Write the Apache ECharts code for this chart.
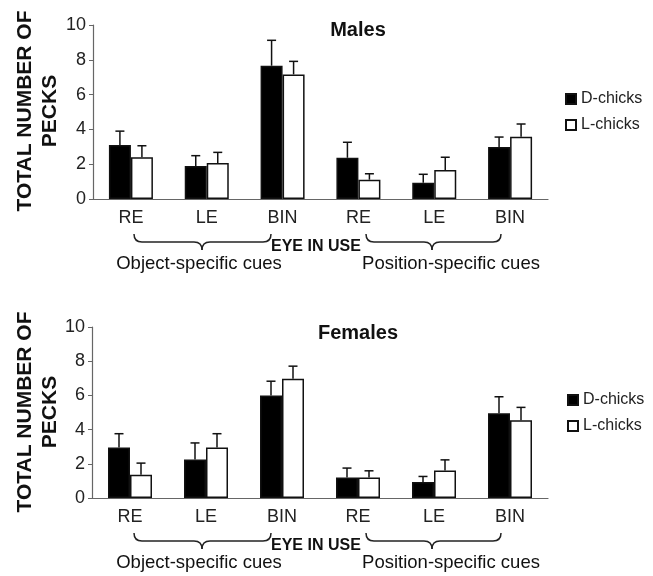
<!DOCTYPE html>
<html><head><meta charset="utf-8">
<script src="https://cdn.jsdelivr.net/npm/echarts@6/dist/echarts.min.js"></script>
<style>html,body{margin:0;padding:0;background:#fff}#c{width:653px;height:576px}</style>
</head><body><div id="c"></div>
<script>
var categories = ['RE','LE','BIN','RE','LE','BIN'];
var yTicks = [0,2,4,6,8,10];
var seriesNames = ['D-chicks','L-chicks'];
var maleD    = [3.10, 1.90, 7.66, 2.37, 0.94, 2.99];
var maleDErr = [0.80, 0.59, 1.46, 0.89, 0.48, 0.57];
var maleL    = [2.40, 2.07, 7.16, 1.11, 1.67, 3.58];
var maleLErr = [0.66, 0.61, 0.75, 0.34, 0.73, 0.73];
var femD     = [2.95, 2.25, 6.00, 1.20, 0.93, 4.95];
var femDErr  = [0.81, 0.97, 0.83, 0.55, 0.33, 0.97];
var femL     = [1.36, 2.95, 6.97, 1.20, 1.61, 4.54];
var femLErr  = [0.68, 0.81, 0.74, 0.39, 0.62, 0.76];

var FONT = "'Liberation Sans', Arial, Helvetica, sans-serif";
var BARW = 22;
var chart = echarts.init(document.getElementById('c'), null, {renderer:'canvas'});

function errData(vals, errs){ return vals.map(function(v,i){ return [i, v, errs[i]]; }); }
function errSeries(idx, vals, errs, side){
  return {
    type:'custom', xAxisIndex:idx, yAxisIndex:idx, silent:true, z:5, clip:false,
    data: errData(vals, errs),
    renderItem:function(params, api){
      var p0 = api.coord([api.value(0), api.value(1)]);
      var p1 = api.coord([api.value(0), api.value(1)+api.value(2)]);
      var x = p0[0] + side*BARW/2;
      return {type:'group', children:[
        {type:'line', shape:{x1:x,y1:p0[1],x2:x,y2:p1[1]}, style:{stroke:'#111',lineWidth:1.5}},
        {type:'line', shape:{x1:x-4.5,y1:p1[1],x2:x+4.5,y2:p1[1]}, style:{stroke:'#111',lineWidth:1.5}}
      ]};
    }
  };
}
function barSeries(idx, name, vals, fill){
  return {type:'bar', name:name, xAxisIndex:idx, yAxisIndex:idx, data:vals, barWidth:BARW, barGap:'0%',
    itemStyle:{color:fill, borderColor:'#111', borderWidth:1.5}, z:3};
}
function xAx(idx){
  return {type:'category', gridIndex:idx, data:categories,
    axisLine:{lineStyle:{color:'#666',width:1.2}},
    axisTick:{length:5, lineStyle:{color:'#666'}},
    axisLabel:{color:'#222', fontSize:18, fontFamily:FONT, margin:10}};
}
function yAx(idx){
  return {type:'value', gridIndex:idx, min:yTicks[0], max:yTicks[yTicks.length-1], interval:2,
    axisLine:{show:true, lineStyle:{color:'#666',width:1.2}},
    axisTick:{show:true, length:4, lineStyle:{color:'#666'}},
    splitLine:{show:false},
    axisLabel:{color:'#222', fontSize:18, fontFamily:FONT, margin:7}};
}
function brace(x1, xm, x2, yTop, yLine, yTip){
  var r = 8, st = {stroke:'#222', lineWidth:1.5, fill:null};
  function q(ax,ay,cx,cy,bx,by){ return {type:'bezierCurve', silent:true, shape:{x1:ax,y1:ay,x2:bx,y2:by,cpx1:cx,cpy1:cy}, style:st}; }
  function l(ax,ay,bx,by){ return {type:'line', silent:true, shape:{x1:ax,y1:ay,x2:bx,y2:by}, style:st}; }
  return {type:'group', silent:true, children:[
    q(x1,yTop, x1,yLine, x1+r,yLine),
    l(x1+r,yLine, xm-r,yLine),
    q(xm-r,yLine, xm,yLine, xm,yTip),
    q(xm,yTip, xm,yLine, xm+r,yLine),
    l(xm+r,yLine, x2-r,yLine),
    q(x2-r,yLine, x2,yLine, x2,yTop)
  ]};
}
function txt(x, y, s, size, bold, rot){
  return {type:'text', x:x, y:y, rotation:rot||0, silent:true,
    style:{text:s, fill:'#111', font:(bold?'bold ':'')+size+'px '+FONT, textAlign:'center', textVerticalAlign:'middle'}};
}
function panelGraphics(yAxis0, yMid, title, titleY){
  var o = yAxis0;
  return [
    txt(358, titleY, title, 20, true),
    txt(25, yMid, 'TOTAL NUMBER OF', 21, true, Math.PI/2),
    txt(50, yMid, 'PECKS', 21, true, Math.PI/2),
    brace(134, 202, 271, o+35, o+43, o+51),
    brace(366, 432, 501, o+35, o+43, o+51),
    {type:'text', x:271, y:o+48, silent:true, style:{text:'EYE IN USE', fill:'#111', font:'bold 16px '+FONT, textAlign:'left', textVerticalAlign:'middle'}},
    txt(199, o+65, 'Object-specific cues', 18.5, false),
    txt(451, o+65, 'Position-specific cues', 18.5, false)
  ];
}
var option = {
  animation:false,
  backgroundColor:'#fff',
  grid:[{left:93, top:25, width:455, height:174},{left:92, top:327, width:456, height:171}],
  xAxis:[xAx(0), xAx(1)],
  yAxis:[yAx(0), yAx(1)],
  legend:[
    {data:seriesNames, orient:'vertical', left:560, top:86, itemWidth:10, itemHeight:10, itemGap:10, icon:'rect',
      textStyle:{color:'#222', fontSize:16, fontFamily:FONT}, selectedMode:false},
    {data:seriesNames, orient:'vertical', left:562, top:387, itemWidth:10, itemHeight:10, itemGap:10, icon:'rect',
      textStyle:{color:'#222', fontSize:16, fontFamily:FONT}, selectedMode:false}
  ],
  series:[
    barSeries(0, seriesNames[0], maleD, '#000'),
    barSeries(0, seriesNames[1], maleL, '#fff'),
    errSeries(0, maleD, maleDErr, -1),
    errSeries(0, maleL, maleLErr, 1),
    barSeries(1, seriesNames[0], femD, '#000'),
    barSeries(1, seriesNames[1], femL, '#fff'),
    errSeries(1, femD, femDErr, -1),
    errSeries(1, femL, femLErr, 1)
  ],
  graphic:[].concat(panelGraphics(199, 111, 'Males', 30), panelGraphics(498, 412, 'Females', 333))
};
chart.setOption(option);
</script></body></html>
